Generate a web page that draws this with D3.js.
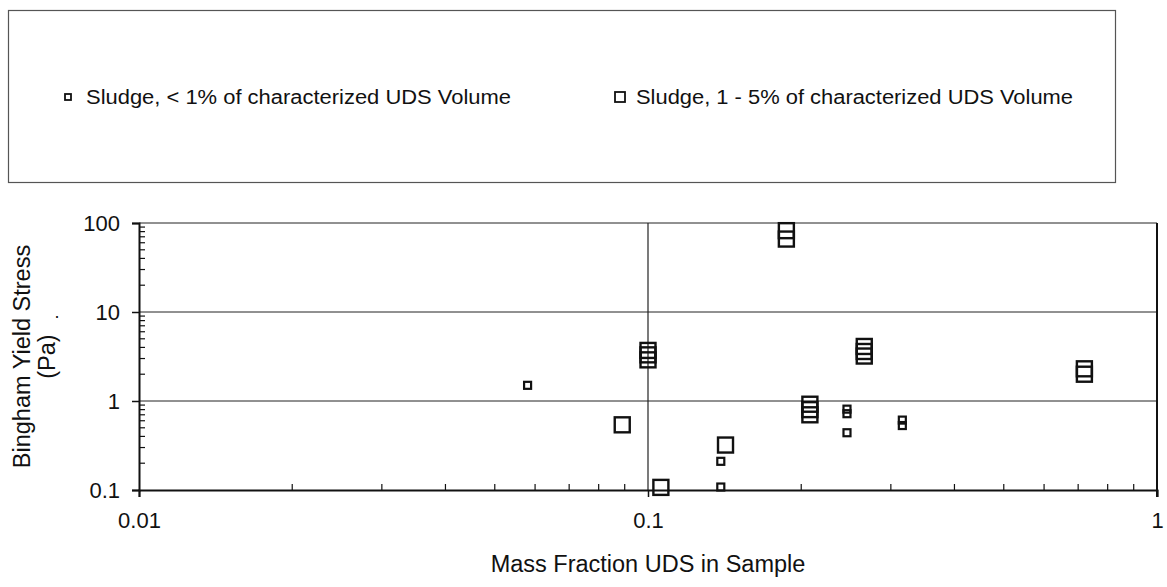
<!DOCTYPE html>
<html>
<head>
<meta charset="utf-8">
<script src="https://cdn.jsdelivr.net/npm/d3@7"></script>
<style>
  html, body { margin: 0; padding: 0; background: #fff; }
  text { font-family: "Liberation Sans", Arial, sans-serif; fill: #111; }
</style>
</head>
<body>
<div id="chart"></div>
<script>
// series 1: Sludge, < 1% of characterized UDS Volume (small squares)
const smallX = [0.058, 0.139, 0.139, 0.246, 0.246, 0.246, 0.316, 0.316];
const smallY = [1.5, 0.21, 0.108, 0.81, 0.72, 0.44, 0.61, 0.53];

// series 2: Sludge, 1 - 5% of characterized UDS Volume (large squares)
const bigX = [0.089, 0.1, 0.1, 0.1, 0.106, 0.142, 0.187, 0.187, 0.208, 0.208, 0.208, 0.266, 0.266, 0.266, 0.72, 0.72];
const bigY = [0.54, 3.7, 3.3, 2.9, 0.107, 0.32, 82, 66, 0.92, 0.8, 0.7, 4.1, 3.6, 3.2, 2.3, 2.0];

const seriesNames = ["Sludge, < 1% of characterized UDS Volume", "Sludge, 1 - 5% of characterized UDS Volume"];
const xTicks = [0.01, 0.1, 1];
const xTickLabels = ["0.01", "0.1", "1"];
const yTicks = [0.1, 1, 10, 100];
const yTickLabels = ["0.1", "1", "10", "100"];

const W = 1167, H = 587;
const svg = d3.select("#chart").append("svg")
    .attr("width", W)
    .attr("height", H);

const margin = {top: 223, right: 10, bottom: 97, left: 139};

const x = d3.scaleLog()
    .domain([0.01, 1])
    .range([margin.left, W - margin.right]);

const y = d3.scaleLog()
    .domain([0.1, 100])
    .range([H - margin.bottom, margin.top]);

// legend box
svg.append("rect")
    .attr("x", 8.5).attr("y", 10.5)
    .attr("width", 1107).attr("height", 172)
    .attr("fill", "none")
    .attr("stroke", "#555")
    .attr("stroke-width", 1.2);

const legend = [
    {name: seriesNames[0], size: 6, mx: 68, tx: 86, len: 425},
    {name: seriesNames[1], size: 10, mx: 620, tx: 636, len: 437}
];
legend.forEach(l => {
    svg.append("rect")
        .attr("x", l.mx - l.size / 2).attr("y", 97 - l.size / 2)
        .attr("width", l.size).attr("height", l.size)
        .attr("fill", "none").attr("stroke", "#111").attr("stroke-width", 1.8);
    svg.append("text")
        .attr("x", l.tx).attr("y", 97)
        .attr("dy", "0.35em")
        .attr("textLength", l.len)
        .attr("lengthAdjust", "spacingAndGlyphs")
        .style("font-size", "20px")
        .text(l.name);
});

// gridlines
const grid = svg.append("g");
grid.selectAll("line.h")
    .data(yTicks.slice(1))
    .join("line")
    .attr("x1", x(0.01)).attr("x2", x(1))
    .attr("y1", d => y(d)).attr("y2", d => y(d))
    .attr("stroke", "#222").attr("stroke-width", 1);
grid.selectAll("line.v")
    .data(xTicks.slice(1))
    .join("line")
    .attr("x1", d => x(d)).attr("x2", d => x(d))
    .attr("y1", y(0.1)).attr("y2", y(100))
    .attr("stroke", "#222").attr("stroke-width", 1.2);

// minor ticks
const xMinor = [];
[0.01, 0.1].forEach(b => { for (let k = 2; k <= 9; k++) xMinor.push(b * k); });
const yMinor = [];
[0.1, 1, 10].forEach(b => { for (let k = 2; k <= 9; k++) yMinor.push(b * k); });

svg.append("g").selectAll("line")
    .data(xMinor)
    .join("line")
    .attr("x1", d => x(d)).attr("x2", d => x(d))
    .attr("y1", y(0.1)).attr("y2", y(0.1) - 6)
    .attr("stroke", "#111").attr("stroke-width", 1.2);

svg.append("g").selectAll("line")
    .data(yMinor)
    .join("line")
    .attr("x1", x(0.01)).attr("x2", x(0.01) + 6)
    .attr("y1", d => y(d)).attr("y2", d => y(d))
    .attr("stroke", "#111").attr("stroke-width", 1.2);

// axes
const xAxis = svg.append("g")
    .attr("transform", `translate(0,${y(0.1)})`)
    .call(d3.axisBottom(x).tickValues(xTicks).tickFormat((d, i) => xTickLabels[i]).tickSize(7).tickPadding(15));
const yAxis = svg.append("g")
    .attr("transform", `translate(${x(0.01)},0)`)
    .call(d3.axisLeft(y).tickValues(yTicks).tickFormat((d, i) => yTickLabels[i]).tickSize(7).tickPadding(12));

[xAxis, yAxis].forEach(a => {
    a.select(".domain").attr("stroke", "#111").attr("stroke-width", 2);
    a.selectAll(".tick line").attr("stroke", "#111").attr("stroke-width", 1.5);
    a.selectAll(".tick text")
        .style("font-family", "'Liberation Sans', Arial, sans-serif")
        .style("font-size", "22px")
        .attr("fill", "#111");
});

// right border
svg.append("line")
    .attr("x1", x(1)).attr("x2", x(1))
    .attr("y1", y(100)).attr("y2", y(0.1) + 7)
    .attr("stroke", "#111").attr("stroke-width", 2);

// points
const small = smallX.map((v, i) => ({x: v, y: smallY[i]}));
const big = bigX.map((v, i) => ({x: v, y: bigY[i]}));

svg.append("g").selectAll("rect")
    .data(small)
    .join("rect")
    .attr("x", d => x(d.x) - 3.5).attr("y", d => y(d.y) - 3.5)
    .attr("width", 7).attr("height", 7)
    .attr("fill", "none").attr("stroke", "#111").attr("stroke-width", 2.2);

svg.append("g").selectAll("rect")
    .data(big)
    .join("rect")
    .attr("x", d => x(d.x) - 7.5).attr("y", d => y(d.y) - 7.5)
    .attr("width", 15).attr("height", 15)
    .attr("fill", "none").attr("stroke", "#111").attr("stroke-width", 2.4);

// axis titles
const midY = (y(0.1) + y(100)) / 2;
svg.append("text")
    .attr("transform", `translate(22,${midY}) rotate(-90)`)
    .attr("text-anchor", "middle")
    .attr("dy", "0.35em")
    .style("font-size", "23.5px")
    .text("Bingham Yield Stress");
svg.append("text")
    .attr("transform", `translate(47,${midY}) rotate(-90)`)
    .attr("text-anchor", "middle")
    .attr("dy", "0.35em")
    .style("font-size", "23.5px")
    .text("(Pa)");
svg.append("text")
    .attr("x", 57).attr("y", 318)
    .attr("text-anchor", "middle")
    .style("font-size", "18px")
    .text(".");

svg.append("text")
    .attr("x", x(0.1)).attr("y", 572)
    .attr("text-anchor", "middle")
    .style("font-size", "23.5px")
    .text("Mass Fraction UDS in Sample");
</script>
</body>
</html>
